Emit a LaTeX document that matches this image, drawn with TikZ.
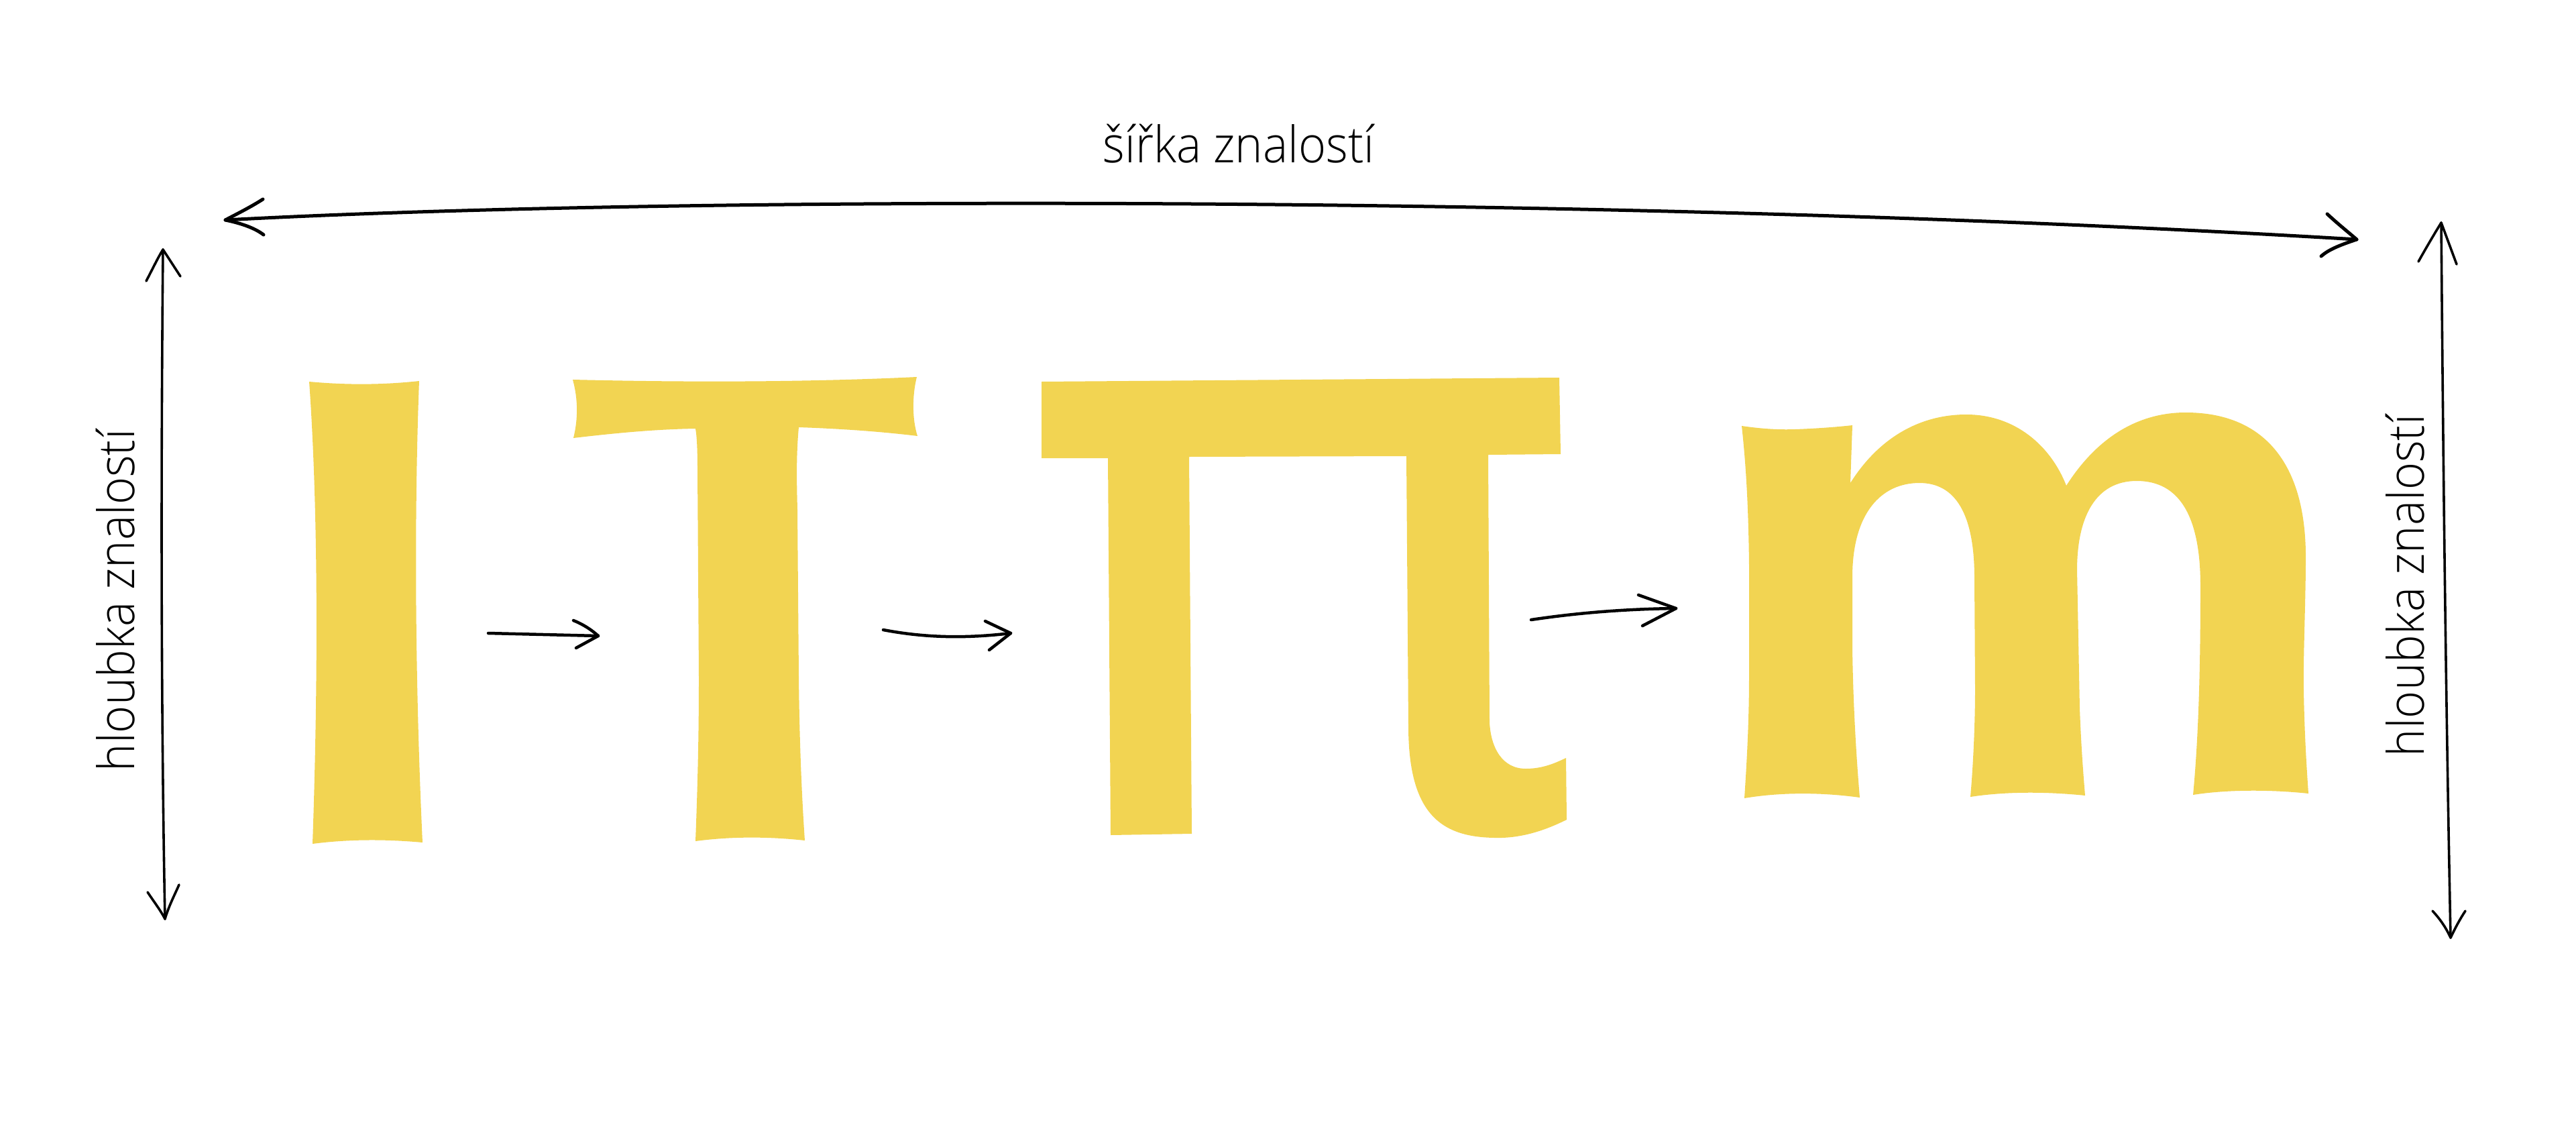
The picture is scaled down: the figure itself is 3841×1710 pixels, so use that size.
\documentclass[tikz,border=0pt]{standalone}
\usepackage{fontspec}
\IfFontExistsTF{Open Sans Light}{\newfontfamily\lblfont{Open Sans Light}}{\newfontfamily\lblfont{Open Sans}}
\definecolor{letteryellow}{HTML}{F2D452}
\newcommand{\narrowtext}[1]{\scalebox{0.935}[1]{#1}}
\tikzset{
  glyph/.style={fill=letteryellow, draw=none},
  widearrow/.style={line width=5pt, line cap=round, line join=round},
  tallarrow/.style={line width=3.6pt, line cap=round, line join=round},
  smallarrow/.style={line width=4.5pt, line cap=round, line join=round},
  lbl/.style={font=\lblfont\fontsize{75}{90}\selectfont, inner sep=0pt, text=black}
}
\begin{document}
\begin{tikzpicture}[x=1pt, y=-1pt]
\useasboundingbox (0,0) rectangle (3841,1710);

% ---- letters ----
% I
\fill[glyph] (461,569) .. controls (515,574) and (570,574) .. (625,568)
  .. controls (618,750) and (618,1000) .. (630,1256)
  .. controls (575,1251) and (520,1251) .. (466,1258)
  .. controls (475,1000) and (474,750) .. cycle;
% T
\fill[glyph] (854,566) .. controls (1020,570) and (1200,570) .. (1367,562)
  .. controls (1360,590) and (1360,625) .. (1368,650)
  .. controls (1310,643) and (1250,639) .. (1191,637)
  .. controls (1187,680) and (1188,720) .. (1189,760)
  -- (1191,1010) .. controls (1192,1100) and (1195,1180) .. (1200,1253)
  .. controls (1145,1247) and (1090,1247) .. (1037,1254)
  .. controls (1041,1150) and (1042,1080) .. (1042,1010)
  -- (1040,700) .. controls (1040,670) and (1039,650) .. (1037,639)
  .. controls (975,640) and (915,646) .. (855,653)
  .. controls (862,625) and (862,595) .. cycle;
% pi
\fill[glyph] (1553,569) -- (2325,563) -- (2327,677) -- (2219,678) -- (2221,1077)
  .. controls (2223,1115) and (2240,1146) .. (2275,1146)
  .. controls (2300,1146) and (2318,1138) .. (2335,1130)
  -- (2336,1222)
  .. controls (2300,1240) and (2265,1250) .. (2229,1249)
  .. controls (2150,1248) and (2100,1215) .. (2100,1083)
  -- (2097,680) -- (1773,681) -- (1777,1243) -- (1656,1245) -- (1652,683) -- (1553,683) -- cycle;
% m
\fill[glyph] (2597,635) .. controls (2625,639) and (2650,641) .. (2677,640)
  .. controls (2705,639) and (2735,637) .. (2762,634)
  -- (2759,720)
  .. controls (2800,655) and (2860,618) .. (2932,618)
  .. controls (3005,618) and (3058,665) .. (3081,724)
  .. controls (3125,655) and (3185,615) .. (3259,615)
  .. controls (3375,615) and (3438,690) .. (3438,830)
  .. controls (3438,900) and (3434,980) .. (3435,1030)
  .. controls (3436,1090) and (3439,1140) .. (3442,1183)
  .. controls (3385,1177) and (3320,1177) .. (3270,1185)
  .. controls (3278,1100) and (3281,1000) .. (3281,874)
  .. controls (3281,770) and (3250,717) .. (3186,717)
  .. controls (3125,717) and (3097,770) .. (3097,850)
  -- (3101,1056) .. controls (3103,1110) and (3106,1150) .. (3109,1186)
  .. controls (3050,1180) and (2990,1180) .. (2938,1188)
  .. controls (2943,1130) and (2945,1070) .. (2945,1026)
  -- (2944,862)
  .. controls (2944,765) and (2915,720) .. (2862,720)
  .. controls (2805,720) and (2762,765) .. (2762,860)
  -- (2762,965) .. controls (2763,1050) and (2768,1130) .. (2773,1189)
  .. controls (2715,1181) and (2655,1181) .. (2601,1190)
  .. controls (2607,1100) and (2608,1050) .. (2608,1000)
  -- (2608,844) .. controls (2607,750) and (2603,690) .. cycle;

% ---- labels ----
\node[lbl, anchor=base] (width) at (1847,242) {\narrowtext{šířka znalostí}};
\node[lbl, anchor=base, rotate=90] (depthL) at (200,895) {\narrowtext{hloubka znalostí}};
\node[lbl, anchor=base, rotate=90] (depthR) at (3614,873) {\narrowtext{hloubka znalostí}};

% ---- width arrow ----
\coordinate (wL) at (336,328);
\coordinate (wR) at (3514,357);
\draw[widearrow] (wL) .. controls (1000,292) and (2400,290) .. (wR);
\draw[widearrow] (392,297) .. controls (375,308) and (355,318) .. (wL)
  .. controls (360,333) and (380,340) .. (393,350);
\draw[widearrow] (3470,319) .. controls (3485,333) and (3500,345) .. (wR)
  .. controls (3490,365) and (3472,372) .. (3461,382);

% ---- left depth arrow ----
\coordinate (dLt) at (243,372);
\coordinate (dLb) at (246,1370);
\draw[tallarrow] (dLt) .. controls (240,700) and (240,1050) .. (dLb);
\draw[tallarrow] (218,419) .. controls (228,400) and (235,385) .. (dLt) -- (269,412);
\draw[tallarrow] (220,1330) .. controls (230,1345) and (240,1358) .. (dLb)
  .. controls (252,1350) and (260,1335) .. (267,1319);

% ---- right depth arrow ----
\coordinate (dRt) at (3640,332);
\coordinate (dRb) at (3654,1398);
\draw[tallarrow] (dRt) .. controls (3643,700) and (3647,1050) .. (dRb);
\draw[tallarrow] (3606,390) .. controls (3620,365) and (3632,345) .. (dRt) -- (3663,394);
\draw[tallarrow] (3627,1358) .. controls (3640,1372) and (3648,1385) .. (dRb)
  .. controls (3660,1385) and (3668,1370) .. (3676,1358);

% ---- small arrows between letters ----
\coordinate (a1s) at (728,944);
\coordinate (a1e) at (892,948);
\draw[smallarrow] (a1s) -- (a1e);
\draw[smallarrow] (855,925) .. controls (870,931) and (882,939) .. (a1e) -- (859,966);

\coordinate (a2s) at (1317,939);
\coordinate (a2e) at (1507,944);
\draw[smallarrow] (a2s) .. controls (1380,951) and (1440,952) .. (a2e);
\draw[smallarrow] (1469,926) -- (a2e) -- (1475,969);

\coordinate (a3s) at (2283,924);
\coordinate (a3e) at (2499,907);
\draw[smallarrow] (a3s) .. controls (2350,914) and (2420,908) .. (a3e);
\draw[smallarrow] (2443,887) -- (a3e) -- (2449,933);
\end{tikzpicture}
\end{document}
